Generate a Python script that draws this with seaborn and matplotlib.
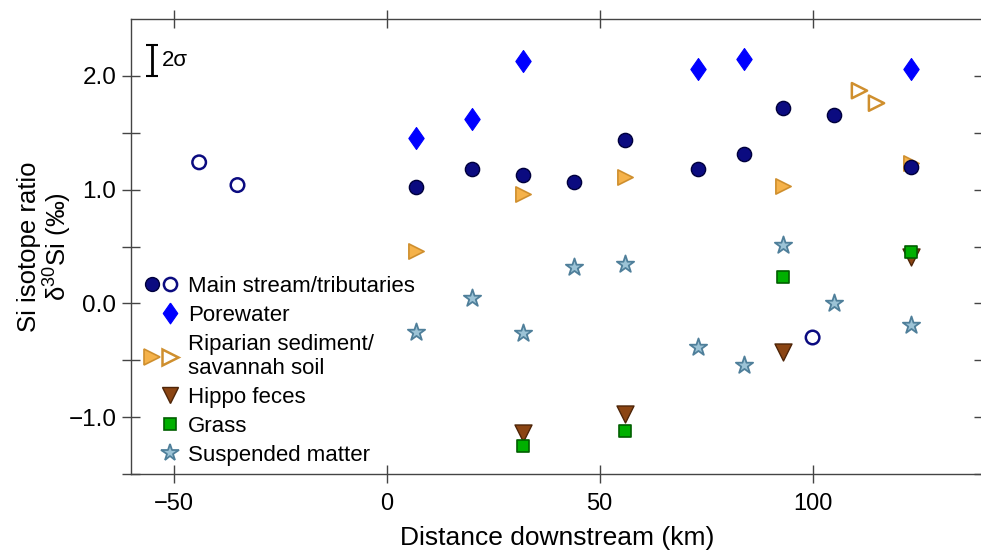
import matplotlib
matplotlib.use("Agg")
import matplotlib.pyplot as plt
from matplotlib.lines import Line2D
from matplotlib.legend_handler import HandlerTuple
import seaborn as sns
import pandas as pd

# distance downstream (km) and d30Si (permil)
main_km = [7, 20, 32, 44, 56, 73, 84, 93, 105, 123]
main_si = [1.02, 1.18, 1.13, 1.07, 1.44, 1.18, 1.31, 1.72, 1.66, 1.20]
trib_km = [-44, -35, 100]
trib_si = [1.24, 1.04, -0.30]
pore_km = [7, 20, 32, 73, 84, 123]
pore_si = [1.45, 1.62, 2.13, 2.06, 2.15, 2.06]
ripar_km = [7, 32, 56, 93, 123]
ripar_si = [0.46, 0.96, 1.11, 1.03, 1.23]
soil_km = [111, 115]
soil_si = [1.87, 1.76]
hippo_km = [32, 56, 93, 123]
hippo_si = [-1.14, -0.97, -0.43, 0.41]
grass_km = [32, 56, 93, 123]
grass_si = [-1.25, -1.12, 0.23, 0.45]
susp_km = [7, 20, 32, 44, 56, 73, 84, 93, 105, 123]
susp_si = [-0.25, 0.05, -0.26, 0.32, 0.35, -0.38, -0.54, 0.51, 0.00, -0.19]

two_sigma = 0.27
sigma_km = -55
sigma_base = 2.0

x_ticks = [-50, 0, 50, 100]
x_labels = ["\u221250", "0", "50", "100"]
y_ticks = [-1.5, -1.0, -0.5, 0.0, 0.5, 1.0, 1.5, 2.0]
y_labels = ["", "\u22121.0", "", "0.0", "", "1.0", "", "2.0"]

sns.set_style("ticks")
plt.rcParams["font.family"] = ["Liberation Sans", "DejaVu Sans"]
plt.rcParams["mathtext.fontset"] = "custom"
plt.rcParams["mathtext.rm"] = "Liberation Sans"
plt.rcParams["text.color"] = "black"
plt.rcParams["axes.labelcolor"] = "black"
plt.rcParams["xtick.labelcolor"] = "black"
plt.rcParams["ytick.labelcolor"] = "black"

navy = "#0b0b80"
navy_edge = "#00003c"
blue = "#0000ff"
orange = "#f5b24a"
orange_edge = "#cf8f2e"
brown = "#8b4513"
brown_edge = "#4e2508"
green = "#00b000"
green_edge = "#005f00"
star_fill = "#9cc3d6"
star_edge = "#4f7f9a"

# diamond a bit wider than matplotlib's thin diamond
diamond = [(0, 1), (0.7, 0), (0, -1), (-0.7, 0), (0, 1)]

fig = plt.figure(figsize=(9.81, 5.51), dpi=100)
ax = fig.add_axes([131 / 981, 1 - 474 / 551, 852 / 981, 455 / 551])

def draw(km, si, **kw):
    sns.scatterplot(data=pd.DataFrame({"km": km, "si": si}), x="km", y="si",
                    ax=ax, legend=False, **kw)

draw(susp_km, susp_si, marker="*", s=170, color=star_fill, edgecolor=star_edge, linewidth=1.3, zorder=3)
draw(ripar_km, ripar_si, marker=">", s=120, color=orange, edgecolor=orange_edge, linewidth=1.2, zorder=4)
draw(soil_km, soil_si, marker=">", s=120, facecolor="none", edgecolor=orange_edge, linewidth=1.8, zorder=4)
draw(main_km, main_si, marker="o", s=105, color=navy, edgecolor=navy_edge, linewidth=1, zorder=5)
draw(trib_km, trib_si, marker="o", s=95, facecolor="none", edgecolor=navy, linewidth=1.8, zorder=5)
draw(pore_km, pore_si, marker=diamond, s=250, color=blue, edgecolor=blue, linewidth=0.8, zorder=5)
draw(hippo_km, hippo_si, marker="v", s=150, color=brown, edgecolor=brown_edge, linewidth=1, zorder=6)
draw(grass_km, grass_si, marker="s", s=75, color=green, edgecolor=green_edge, linewidth=1.2, zorder=7)

# 2 sigma scale bar
ax.errorbar([sigma_km], [sigma_base + two_sigma / 2], yerr=two_sigma / 2, fmt="none",
            ecolor="black", elinewidth=2, capsize=4, capthick=1.5)
ax.text(sigma_km + 2.3, sigma_base + two_sigma / 2, "2\u03c3", fontsize=16, va="center", ha="left")

ax.set_xlim(-60, 140)
ax.set_ylim(-1.5, 2.5)
ax.set_xticks(x_ticks, x_labels)
ax.set_yticks(y_ticks, y_labels)
ax.tick_params(direction="inout", length=13, width=1, color="#444444", labelsize=17.5,
               top=True, right=True)
ax.tick_params(axis="x", pad=7, labelsize=17)
ax.tick_params(axis="y", pad=4)
for sp in ax.spines.values():
    sp.set_visible(True)
    sp.set_color("#444444")
    sp.set_linewidth(1)

ax.set_xlabel("Distance downstream (km)", fontsize=19, labelpad=8)
ax.set_ylabel("Si isotope ratio\n\u03b4$^{30}$Si (\u2030)", fontsize=18.5, labelpad=-3, linespacing=0.95)

blank = Line2D([], [], linestyle="none", marker="none")
def mk(marker, ms, fc, ec, mew):
    return Line2D([], [], linestyle="none", marker=marker, markersize=ms,
                  markerfacecolor=fc, markeredgecolor=ec, markeredgewidth=mew)

handles = [
    (mk("o", 10, navy, navy_edge, 1), mk("o", 9.5, "none", navy, 1.8)),
    (blank, mk(diamond, 15, blue, blue, 0.8)),
    (mk(">", 11, orange, orange_edge, 1.2), mk(">", 11, "none", orange_edge, 1.8)),
    (blank, mk("v", 12, brown, brown_edge, 1)),
    (blank, mk("s", 8, green, green_edge, 1.2)),
    (blank, mk("*", 13, star_fill, star_edge, 1.3)),
]
labels = ["Main stream/tributaries", "Porewater", "Riparian sediment/\nsavannah soil",
          "Hippo feces", "Grass", "Suspended matter"]
ax.legend(handles, labels, handler_map={tuple: HandlerTuple(ndivide=None, pad=0.2)},
          loc="upper left", bbox_to_anchor=(0.0, 0.465), frameon=False, fontsize=16,
          handlelength=1.5, handletextpad=0.45, labelspacing=0.36, borderaxespad=0.2)

fig.savefig("out.png", dpi=100)
